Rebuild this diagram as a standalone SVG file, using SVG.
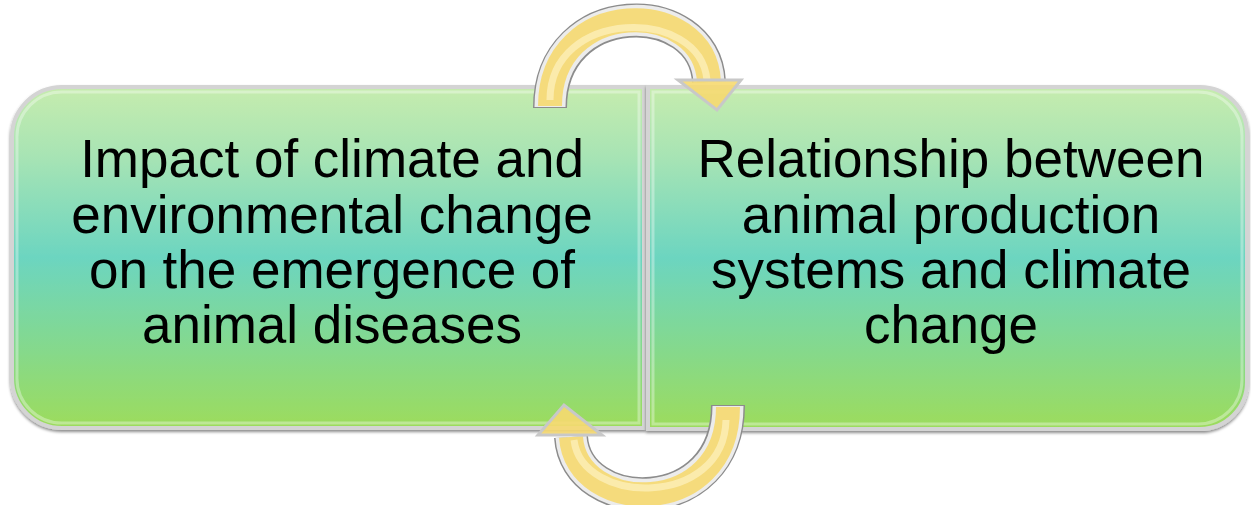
<svg xmlns="http://www.w3.org/2000/svg" width="1251" height="505" viewBox="0 0 1251 505">
<defs>
<linearGradient id="boxFill" x1="0" y1="0" x2="0" y2="1">
<stop offset="0" stop-color="#c6ecae"/>
<stop offset="0.2" stop-color="#a8e4b4"/>
<stop offset="0.5" stop-color="#6cd5c0"/>
<stop offset="0.78" stop-color="#86d98a"/>
<stop offset="1" stop-color="#9ddc5c"/>
</linearGradient>
<filter id="sh" x="-5%" y="-5%" width="110%" height="115%">
<feGaussianBlur in="SourceAlpha" stdDeviation="1.5"/>
<feOffset dx="0" dy="2" result="b"/>
<feFlood flood-color="#000" flood-opacity="0.45"/>
<feComposite in2="b" operator="in"/>
<feMerge><feMergeNode/><feMergeNode in="SourceGraphic"/></feMerge>
</filter>
</defs>
<style>
.box{fill:url(#boxFill);stroke:#d4d4d4;stroke-width:4}
.bevel{fill:none;stroke:#ffffff;stroke-opacity:0.35;stroke-width:3}
.lbl{font-family:"Liberation Sans",Arial,sans-serif;font-size:53px;fill:#000;text-anchor:middle}
.arrOut{fill:none;stroke:#8c8c8c;stroke-width:34}
.arrMid{fill:none;stroke:#ececec;stroke-width:31}
.arrIn{fill:none;stroke:#f6d970;stroke-width:24;stroke-opacity:0.9}
.arrHi{fill:none;stroke:#fcefb8;stroke-width:7;stroke-opacity:0.8}
.head{fill:#f6d970;fill-opacity:0.9;stroke:#c8c8c8;stroke-width:3;stroke-linejoin:miter}
</style>
<g id="node-left" filter="url(#sh)">
<path class="box" d="M62,87 H644 V428 H62 A50,50 0 0 1 12,378 V137 A50,50 0 0 1 62,87 Z"/>
<path class="bevel" d="M64,92 H639 V423 H64 A45,45 0 0 1 17,376 V139 A45,45 0 0 1 64,92 Z"/>
<text class="lbl" x="332" y="177">Impact of climate and</text>
<text class="lbl" x="332" y="233">environmental change</text>
<text class="lbl" x="332" y="288">on the emergence of</text>
<text class="lbl" x="332" y="343">animal diseases</text>
</g>
<g id="node-right" filter="url(#sh)">
<path class="box" d="M648,87 H1200 A47,47 0 0 1 1247,134 V382 A47,47 0 0 1 1200,429 H648 Z"/>
<path class="bevel" d="M653,92 H1198 A44,44 0 0 1 1242,136 V380 A44,44 0 0 1 1198,424 H653 Z"/>
<text class="lbl" x="951" y="177">Relationship between</text>
<text class="lbl" x="951" y="233">animal production</text>
<text class="lbl" x="951" y="288">systems and climate</text>
<text class="lbl" x="951" y="343">change</text>
</g>
<g id="connectors">
<g id="arrow-top">
<path class="arrOut" d="M550,108 C550,-4 705,-4 709,82"/>
<path class="arrMid" d="M550,107 C550,-4 705,-4 709,82"/>
<path class="arrIn" d="M550,106 C550,-4 705,-4 709,82"/>
<path class="arrHi" d="M550,100 C550,8 700,6 707,80"/>
<polygon class="head" points="678,80 741,80 717,110"/>
</g>
<g id="arrow-bottom">
<path class="arrOut" d="M728,405 C728,520 576,516 571,437"/>
<path class="arrMid" d="M728,406 C728,520 576,516 571,437"/>
<path class="arrIn" d="M728,407 C728,520 576,516 571,437"/>
<path class="arrHi" d="M726,420 C724,508 582,506 574,440"/>
<polygon class="head" points="538,435 602,435 564,405"/>
</g>
</g>
</svg>
